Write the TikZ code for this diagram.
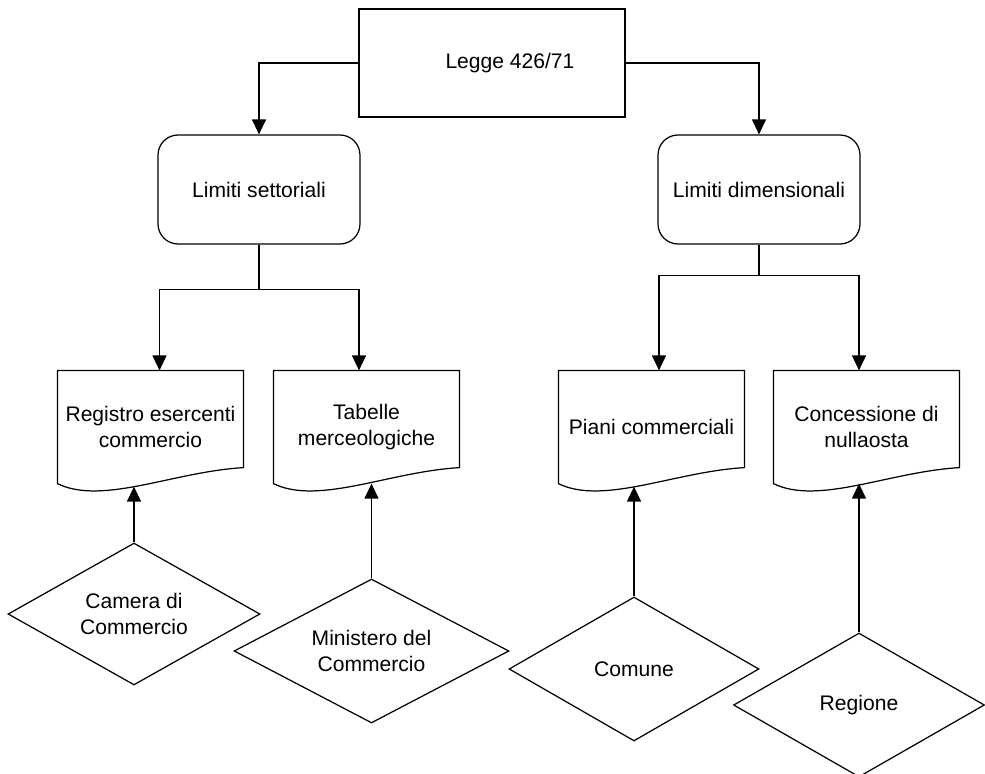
\documentclass[tikz,border=0pt]{standalone}
\usepackage{fontspec}
\setmainfont{Liberation Sans}
\usetikzlibrary{shapes.geometric, arrows.meta, calc}
\tikzset{>={Triangle[width=0.28cm,length=0.3cm]}}
\tikzset{
  base/.style={font=\fontsize{12}{14.8}\selectfont, align=center, inner sep=0pt, line width=0.7pt},
  lawbox/.style={base, draw, rectangle, minimum width=5.32cm, minimum height=2.16cm},
  limbox/.style={base, draw, rounded corners=0.4cm, minimum width=4.04cm, minimum height=2.18cm},
  docbox/.style={base, minimum width=3.7cm, minimum height=2.24cm},
  actor/.style={base, draw, diamond, aspect=1.75, minimum height=2.88cm},
  link/.style={line width=0.7pt, ->},
}
% outline of a document node, wavy bottom
\newcommand{\drawdoc}[1]{%
  \draw[line width=0.7pt] (#1.north west) -- (#1.north east)
    -- ([yshift=0.32cm]#1.south east)
    .. controls ([xshift=-1.4cm,yshift=0.24cm]#1.south east)
    and ([xshift=0.9cm,yshift=-0.44cm]#1.south west) .. (#1.south west) -- cycle;}

\begin{document}
\begin{tikzpicture}[x=0.02cm, y=-0.02cm]
    \useasboundingbox (0,0) rectangle (985,774);
    % law and the two limits
    \node[lawbox] (law) at (492,63) {\hspace*{0.72cm}Legge 426/71};
    \node[limbox] (sett) at (259,189.5) {Limiti settoriali};
    \node[limbox] (dim) at (759,189.5) {Limiti dimensionali};
    % documents
    \node[docbox] (reg) at (150.5,427) {Registro esercenti\\commercio};
    \node[docbox] (tab) at (366.5,427) {Tabelle\\merceologiche};
    \node[docbox] (piani) at (651.5,427) {Piani commerciali};
    \node[docbox] (conc) at (866.5,427) {Concessione di\\nullaosta};
    \drawdoc{reg}
    \drawdoc{tab}
    \drawdoc{piani}
    \drawdoc{conc}
    % authorities
    \node[actor, minimum width=5.04cm, minimum height=2.84cm] (camera) at (134,614) {Camera di\\Commercio};
    \node[actor, minimum width=5.5cm] (minist) at (371.5,651) {Ministero del\\Commercio};
    \node[actor, minimum width=5cm] (comune) at (634,669) {Comune};
    \node[actor, minimum width=5.02cm] (regione) at (859,705) {Regione};
    % connectors
    \draw[link] (law.west) -| (sett.north);
    \draw[link] (law.east) -| (dim.north);
    \draw[link] (sett.south) -- ++(0,45) -| ([xshift=0.18cm]reg.north);
    \draw[link] (sett.south) -- ++(0,45) -| ([xshift=-0.15cm]tab.north);
    \draw[link] (dim.south) -- ++(0,31) -| ([xshift=0.15cm]piani.north);
    \draw[link] (dim.south) -- ++(0,31) -| ([xshift=-0.15cm]conc.north);
    \draw[link] (camera.north) -- ($(camera.north |- reg.south)+(0,3)$);
    \draw[link] (minist.north) -- (minist.north |- tab.south);
    \draw[link] (comune.north) -- ($(comune.north |- piani.south)+(0,3)$);
    \draw[link] (regione.north) -- (regione.north |- conc.south);
\end{tikzpicture}
\end{document}
